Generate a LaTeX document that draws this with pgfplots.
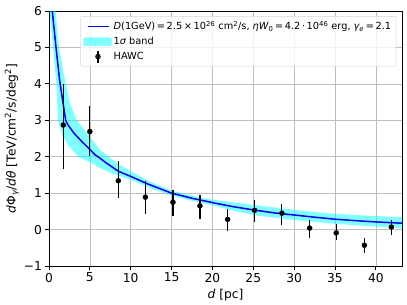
\documentclass[border=0pt]{standalone}
\usepackage{pgfplots}
\pgfplotsset{compat=1.18}
\usepackage{fontspec}
\setmainfont{DejaVu Sans}
\definecolor{gridgray}{RGB}{190,190,190}
\definecolor{legedge}{RGB}{214,214,214}
\definecolor{aqua}{RGB}{0,255,255}
\definecolor{pureblue}{RGB}{0,0,255}
\begin{document}
\begin{tikzpicture}
\path[use as bounding box] (0,0) rectangle (407bp,305bp);
\begin{axis}[
  at={(49bp,39bp)}, anchor=south west,
  scale only axis, width=353bp, height=255bp,
  xmin=0, xmax=43.2, ymin=-1, ymax=6,
  xtick={0,5,10,15,20,25,30,35,40},
  xticklabels={0,5,10,15,20,25,30,35,40},
  ytick={-1,0,1,2,3,4,5,6},
  yticklabels={−1,0,1,2,3,4,5,6},
  tick label style={font=\fontsize{12.3}{14}\selectfont},
  tick align=outside, xtick pos=bottom, ytick pos=left,
  major tick length=3.5bp,
  every tick/.style={black, line width=0.8bp},
  grid=major, grid style={gridgray, line width=0.7bp},
  axis line style={line width=0.8bp},
  every axis y label/.style={at={(axis description cs:-0.105,0.5)}, rotate=90, anchor=center},
  every axis x label/.style={at={(axis description cs:0.5,-0.114)}, anchor=center},
  label style={font=\fontsize{12.3}{14}\selectfont},
  xlabel={{\itshape d} [pc]},
  ylabel={{\itshape d}Φ\textsubscript{\itshape γ}/{\itshape dθ} [TeV/cm\textsuperscript{2}/s/deg\textsuperscript{2}]},
  legend style={at={(rel axis cs:0.984,0.98)}, anchor=north east, draw=legedge, rounded corners=2bp, fill=white, fill opacity=0.8, text opacity=1, font=\fontsize{9.8}{11}\selectfont, cells={anchor=west}, inner xsep=3bp, inner ysep=3bp, row sep=1.8bp},
  clip=true,
]
\addlegendimage{legend image code/.code={\draw[pureblue, line width=1.5bp] (3bp,0bp) -- (24bp,0bp);}}
\addlegendentry{{\itshape D}(1GeV)\,=\,2.5\,×\,10\textsuperscript{26} cm\textsuperscript{2}/s, {\itshape ηW}\textsubscript{0}\,=\,4.2\,·\,10\textsuperscript{46} erg, {\itshape γ}\textsubscript{\itshape e}\,=\,2.1}
\addlegendimage{legend image code/.code={\fill[aqua, opacity=0.5] (-1bp,-4bp) rectangle (27bp,4bp);}}
\addlegendentry{1{\itshape σ} band}
\addlegendimage{legend image code/.code={\draw[black, line width=1.2bp] (13.5bp,-6bp) -- (13.5bp,6bp); \fill[black] (13.5bp,0bp) circle (2.5bp);}}
\addlegendentry{HAWC}
% 1 sigma band: upper edge forward, lower edge backward
\addplot[forget plot, fill=aqua, fill opacity=0.5, draw=none] coordinates {
 (0.55,7.3) (0.82,6.0) (1.22,5.0) (2.04,4.0) (2.6,3.45) (3.4,3.0) (5,2.55) (6.24,2.19)
 (8,1.88) (10,1.6) (12.5,1.3) (15,1.07) (17.5,0.93) (20,0.82) (22.5,0.75) (25,0.68)
 (30,0.54) (35,0.43) (40,0.37) (43.2,0.34)
 (43.2,0.04) (40,0.08) (35,0.16) (30,0.26) (25,0.40) (22.5,0.52) (20,0.67) (17.5,0.79)
 (15,0.93) (12.5,1.13) (10,1.37) (8,1.52) (6.24,1.69) (5,1.85) (3.6,2.0) (2.4,2.3) (1.6,2.6)
 (1.1,3.0) (0.9,4.0) (0.49,5.0) (0.08,6.0) (0.0,6.6)
};
% model curve
\addplot[forget plot, pureblue, line width=1.5bp] coordinates {
 (0.3,6.3) (0.4,6.0) (0.86,5.0) (1.3,4.1) (2.04,3.0) (2.3,2.88) (3,2.66) (4,2.42) (5,2.2)
 (5.6,2.06) (6.24,1.96) (7,1.83) (8.5,1.6) (10,1.46) (12,1.26) (15,1.0) (17.5,0.86)
 (20,0.74) (22.5,0.63) (25,0.54) (27.5,0.46) (30,0.40) (32.5,0.34) (35,0.285)
 (37.5,0.245) (40,0.21) (43.2,0.175)
};
% HAWC data
\addplot[forget plot, black, only marks, mark=*, mark size=2.5bp,
  error bars/.cd, y dir=both, y explicit, error mark=none,
  error bar style={black, line width=1.2bp}]
 table[x=x, y=y, y error plus=ep, y error minus=em] {
 x y ep em
 1.75 2.87 1.13 1.21
 5.0 2.69 0.69 0.67
 8.48 1.34 0.53 0.48
 11.8 0.89 0.43 0.46
 15.17 0.75 0.33 0.39
 18.47 0.65 0.29 0.36
 21.86 0.28 0.28 0.31
 25.16 0.53 0.27 0.32
 28.5 0.45 0.26 0.32
 31.9 0.04 0.22 0.27
 35.15 -0.09 0.23 0.19
 38.6 -0.43 0.19 0.20
 41.9 0.07 0.20 0.21
 };
\node[anchor=south west, font=\fontsize{7.5}{9}\selectfont, inner sep=0pt] at (rel axis cs:0,1) [yshift=1.5bp] {1e−13};
\end{axis}
\end{tikzpicture}
\end{document}
